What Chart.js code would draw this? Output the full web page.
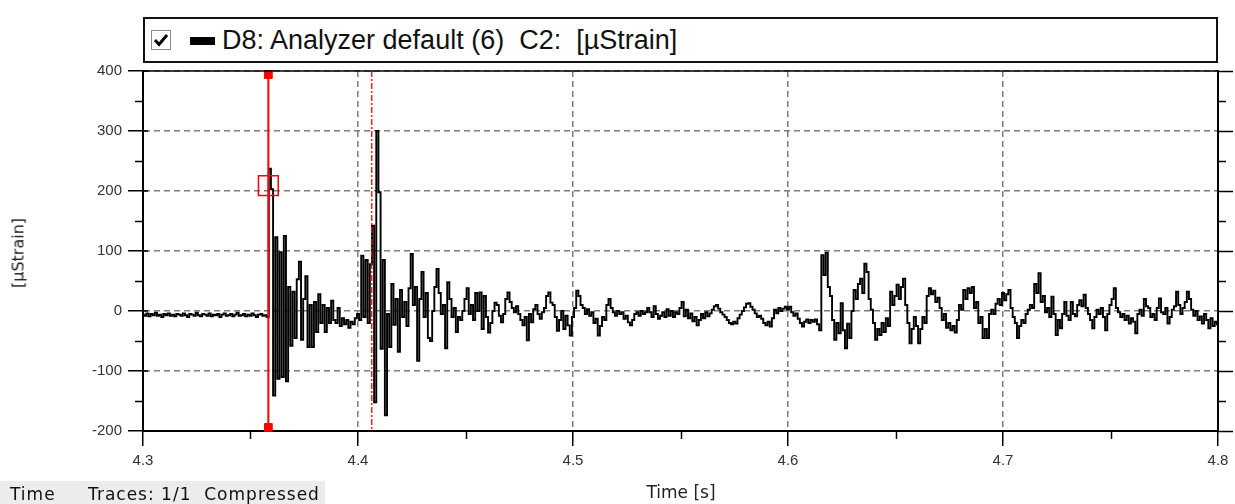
<!DOCTYPE html>
<html>
<head>
<meta charset="utf-8">
<script src="https://cdn.jsdelivr.net/npm/chart.js@4/dist/chart.umd.min.js"></script>
<style>
html,body{margin:0;padding:0;background:#fff;}
#wrap{position:relative;width:1235px;height:504px;overflow:hidden;font-family:"Liberation Sans",Arial,sans-serif;color:#111;}
#c{position:absolute;left:0;top:0;}
#legend{position:absolute;left:143px;top:17px;width:1075px;height:46px;box-sizing:border-box;border:2px solid #111;background:#fff;}
#chk{position:absolute;left:151px;top:30px;width:20px;height:20px;}
#swatch{position:absolute;left:190px;top:37px;width:25px;height:8px;background:#000;}
#legtext{position:absolute;left:222px;top:23px;font-size:27px;line-height:34px;white-space:pre;color:#111;}
#ytitle{position:absolute;left:18px;top:253px;transform:translate(-50%,-50%) rotate(-90deg);font-family:"DejaVu Sans",sans-serif;font-size:16px;white-space:pre;color:#222;}
#xtitle{position:absolute;left:681px;top:482px;transform:translateX(-50%);font-family:"DejaVu Sans",sans-serif;font-size:17px;white-space:pre;color:#222;}
#footer{position:absolute;left:0;top:481px;width:325px;height:23px;background:#ececec;}
.ft{position:absolute;top:484px;font-family:"DejaVu Sans",sans-serif;font-size:17px;letter-spacing:1px;white-space:pre;color:#111;}
</style>
</head>
<body>
<div id="wrap">
  <canvas id="c" width="1235" height="504"></canvas>
  <div id="legend"></div>
  <svg id="chk" viewBox="0 0 20 20"><rect x="0.5" y="0.5" width="19" height="19" fill="#fff" stroke="#8a8a8a" stroke-width="1"/><path d="M4 10 L8 14.5 L16 5" fill="none" stroke="#000" stroke-width="3"/></svg>
  <div id="swatch"></div>
  <div id="legtext">D8: Analyzer default (6)  C2:  [µStrain]</div>
  <div id="ytitle">[µStrain]</div>
  <div id="xtitle">Time [s]</div>
  <div id="footer"></div>
  <div class="ft" style="left:10px">Time</div>
  <div class="ft" style="left:88px">Traces: 1/1  Compressed</div>
</div>
<script>
// ---- data (µStrain), sampled every 1 ms starting at 4.300 s ----
const T_START = 4.3;
const T_STEP = 0.001;
const SEG_PRE = [
  -6,-8,-4,-9,-5,-7,-3,-8,-6,-10,
  -5,-7,-4,-8,-6,-9,-5,-6,-8,-4,
  -7,-10,-5,-6,-8,-3,-7,-9,-5,-6,
  -8,-4,-9,-6,-7,-5,-10,-6,-4,-8,
  -7,-5,-9,-6,-3,-8,-7,-5,-9,-6,
  -8,-4,-7,-10,-6,-5,-8,-7,
  -10
];
const SEG_IMPACT1 = [
  237,203,-141,123,-113,98,-110,125,-117,40,
  -58,32,-45,53,82,-48,20,58,-60,10,
  -60,15,-35,28,-20,10,-35,5,-20,17,
  -15,-20,5,-25,-12,-22,-15,-28,-18,-22,
  -12,-5
];
const SEG_IMPACT2 = [
  -15,92,-10,85,-20,78,142,-152,300,198,
  -63,85,-174,-5,-60,45,-23,20,-68,35,
  -10,15,-25,38,95,10,40,-83,20,65,
  -10,30,-45,-50,0,40,70,30,-5,10,
  -62,48,20,-10,5,-35,-10,-15,0,20,
  38,-5,10,-15,30,0
];
const SEG_DECAY = [
  31,-30,25,-10,-36,-20,0,14,10,-8,
  -19,-5,20,31,15,5,-2,8,-5,-15,
  -24,-10,-49,-5,-19,3,10,-5,-13,-2,
  5,25,31,14,10,-10,-33,-15,0,-30,
  -8,-24,-41,-10,5,34,25,10,5,-5,
  3,-8,-2,-20,-13,-41,-25,-10,-15,10,
  20,5,-2,-8,0,-5,-2,-13,-8,-19,
  -24,-15,-5,-2,-8,0,-5,-2,5,-2,
  -10,8,-5,-13,-8,-2,-10,3,-8,0,
  -10,-2
];
const SEG_QUIET = [
  -5,5,15,-9,2,-12,-4,-17,-10,-24,
  -15,-5,-12,-2,-9,-4,2,8,10,4,
  -2,-6,-10,-15,-20,-22,-18,-21,-12,-6,
  0,6,12,13,7,2,-4,-10,-8,-13,
  -20,-24,-18,-26,-12,2,-4,5,0,4,
  7,3,7,-2,-8,-4,-13,-20,-26,-18,
  -14,-20,-15,-18,-14,-22,-32,93,60,97,
  40,25,-15,-48,-20,-37,13,-32,-62,-21,
  -45,0,35,20,45,54,30,79,65,20,
  2,-20,-48,-30
];
const SEG_LATE1 = [
  -40,-20,-35,-12,-25,32,10,25,44,20,
  40,54,10,-20,-54,-30,-10,-25,-54,-30,
  -10,-20,25,38,28,34,15,22,5,-15,
  -5,-28,-20,-32,-25,-36,-15,10,2,35,
  20,38,30,40,5,15,-20,-10,-45,-30,
  -45,-5,2,-5,12,20,10,30,18,28,
  35,5,-10,-20,-45,-25,-15,-20,-5,2,
  10,5,45,30,63,15,25,-2,5
];
const SEG_LATE2 = [
  -10,24,-5,-40,-15,-29,-5,15,-8,-15,
  15,-5,-9,10,18,8,27,5,-5,-15,
  -29,-10,2,-5,5,-10,-32,-5,10,20,
  38,5,-2,-10,-5,-15,-8,-21,-12,-18,
  -37,-5,2,-8,20,8,5,-10,-5,-15,
  5,21,-2,-5,5,-21,-10,2,8,32,
  10,-5,5,15,32,20,2,-8,0,-15,
  -9,-21,-5,-15,-29,-12,-25,-18,-22
];
const CURSOR_T = 4.3583;     // solid red cursor
const CURSOR_VALUE = 209;    // readout box value
const REF_T = 4.4064;        // dash-dot red reference cursor
const X_TICKS = [4.3, 4.4, 4.5, 4.6, 4.7, 4.8];
const X_MINOR = [4.35, 4.45, 4.55, 4.65, 4.75];
const Y_TICKS = [-200, -100, 0, 100, 200, 300, 400];
const Y_MINOR = [-150, -50, 50, 150, 250, 350];

const SIGNAL = [].concat(SEG_PRE, SEG_IMPACT1, SEG_IMPACT2, SEG_DECAY, SEG_QUIET, SEG_LATE1, SEG_LATE2);
const points = SIGNAL.map((v, i) => ({x: +(T_START + i * T_STEP).toFixed(4), y: v}));

const FONT = '"Liberation Sans", Arial, sans-serif';

const framePlugin = {
  id: 'frame',
  afterDraw(chart) {
    const {ctx, chartArea: a, scales: {x, y}} = chart;
    ctx.save();
    ctx.strokeStyle = '#000';
    ctx.lineWidth = 1.5;
    const seg = (x1, y1, x2, y2) => { ctx.beginPath(); ctx.moveTo(x1, y1); ctx.lineTo(x2, y2); ctx.stroke(); };
    seg(a.left - 1, a.top, a.right + 1, a.top);
    Y_MINOR.forEach(v => { const p = Math.round(y.getPixelForValue(v)) + 0.5; seg(a.left - 8, p, a.left, p); seg(a.right, p, a.right + 8, p); });
    X_MINOR.forEach(t => { const p = Math.round(x.getPixelForValue(t)) + 0.5; seg(p, a.bottom, p, a.bottom + 8); });
    Y_TICKS.forEach(v => { const p = y.getPixelForValue(v); seg(a.left, p, a.left + 5, p); });
    ctx.restore();
  }
};

Chart.defaults.font.family = FONT;
new Chart(document.getElementById('c'), {
  type: 'line',
  data: {
    datasets: [
      {label: 'cursor', data: [{x: CURSOR_T, y: 400}, {x: CURSOR_T, y: -200}], borderColor: '#ff0000', borderWidth: 2, pointRadius: 0, order: 0},
      {label: 'cursorEnds', data: [{x: CURSOR_T, y: 394}, {x: CURSOR_T, y: -194}], showLine: false, pointStyle: 'rect', pointRadius: 5.5, backgroundColor: '#ff0000', borderColor: '#ff0000', borderWidth: 1, clip: false, order: 1},
      {label: 'readout', data: [{x: CURSOR_T, y: CURSOR_VALUE}], showLine: false, pointStyle: 'rect', pointRadius: 14, backgroundColor: 'rgba(0,0,0,0)', borderColor: '#ff0000', borderWidth: 1.5, clip: false, order: 2},
      {label: 'ref', data: [{x: REF_T, y: 400}, {x: REF_T, y: -200}], borderColor: '#ff0000', borderWidth: 1.3, borderDash: [6, 2, 2, 2], pointRadius: 0, order: 3},
      {label: 'D8: Analyzer default (6)  C2:  [µStrain]', data: points, borderColor: '#000', borderWidth: 1.9, pointRadius: 0, stepped: 'middle', order: 4}
    ]
  },
  options: {
    responsive: false,
    animation: false,
    events: [],
    plugins: {legend: {display: false}, tooltip: {enabled: false}, title: {display: false}},
    layout: {padding: {top: 71, left: 0, right: 0, bottom: 0}},
    scales: {
      x: {
        type: 'linear', min: 4.3, max: 4.8,
        afterBuildTicks: s => { s.ticks = X_TICKS.map(v => ({value: v})); },
        ticks: {callback: v => v.toFixed(1), color: '#333', font: {size: 15, family: FONT}, padding: 6, maxRotation: 0, autoSkip: false},
        grid: {color: '#7a7a7a', lineWidth: 1.5, tickLength: 15, tickColor: '#000', tickWidth: 1.5},
        border: {dash: [6, 4], color: '#000', width: 2},
        afterFit: s => { s.height = 73; }
      },
      y: {
        type: 'linear', min: -200, max: 400,
        afterBuildTicks: s => { s.ticks = Y_TICKS.map(v => ({value: v})); },
        ticks: {color: '#333', font: {size: 15, family: FONT}, padding: 6},
        grid: {color: '#7a7a7a', lineWidth: 1.5, tickLength: 15, tickColor: '#000', tickWidth: 1.5},
        border: {dash: [6, 4], color: '#000', width: 2},
        afterFit: s => { s.width = 143; }
      },
      y2: {
        type: 'linear', position: 'right', min: -200, max: 400,
        afterBuildTicks: s => { s.ticks = Y_TICKS.map(v => ({value: v})); },
        ticks: {display: false},
        grid: {drawOnChartArea: false, tickLength: 15, tickColor: '#000', tickWidth: 1.5},
        border: {color: '#000', width: 2},
        afterFit: s => { s.width = 17; }
      }
    }
  },
  plugins: [framePlugin]
});
</script>
</body>
</html>
